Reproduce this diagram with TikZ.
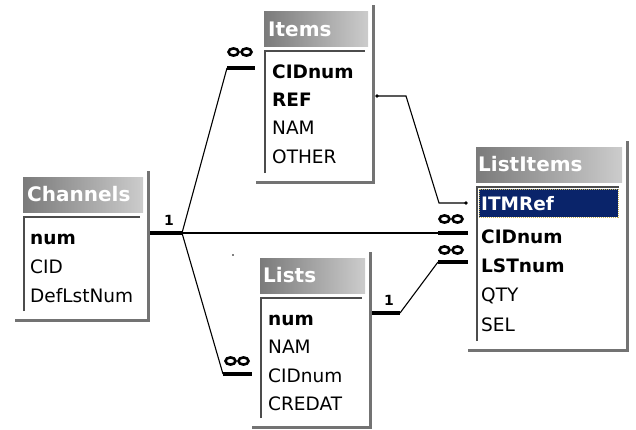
\documentclass[tikz,border=0pt]{standalone}
\usepackage{fontspec}
\setmainfont{DejaVu Sans}
\usetikzlibrary{positioning}

\newcommand\headfont{\bfseries\fontsize{20}{22}\selectfont}
\newcommand\fieldfont{\fontsize{18.5}{20}\selectfont}
\newcommand\keyfont{\bfseries\fontsize{18.5}{20}\selectfont}
\newcommand\cardfont{\bfseries\fontsize{14}{15}\selectfont}
\definecolor{selblue}{RGB}{10,36,106}
\definecolor{seldots}{RGB}{200,180,90}

\begin{document}
\begin{tikzpicture}[x=1pt,y=-1pt,
    frame/.style={line width=3pt, black!55},
    listedge/.style={line width=2pt, black!70},
    title/.style={anchor=west, inner sep=0pt, text=white, font=\headfont, text height=14.6pt, text depth=0pt},
    field/.style={anchor=west, inner sep=0pt, font=\fieldfont, text height=13.5pt, text depth=0pt},
    key/.style={field, font=\keyfont},
    link/.style={line width=1.1pt},
    bar/.style={line width=4.5pt},
    card/.style={inner sep=0pt, font=\cardfont},
    manymark/.pic={\draw[line width=2.6pt] (-6.5,0) ellipse (5 and 3.6) (6.5,0) ellipse (5 and 3.6);}
]
    \useasboundingbox (0,0) rectangle (636,429);

    % Table windows: title bar, frame edge and sunken field list
    \foreach \l/\t/\r/\b in {23/177/148/320, 264/11/373/182, 260/258/370/427, 476/147/627/350} {
        \shade[left color=black!52, right color=black!20] (\l,\t) rectangle (\r-5,\t+35);
        \draw[frame] (\r,\t-6) -- (\r,\b) -- (\l-8,\b);
        \draw[listedge] (\l+1,\b-9) -- (\l+1,\t+40) -- (\r-8,\t+40);
    }

    % Channels
    \node[title] (chn) at (27,194.5) {Channels};
    \node[key] (chn-num) at (30,238) {num};
    \node[field] (chn-cid) at (30,267) {CID};
    \node[field] (chn-def) at (30,296) {DefLstNum};

    % Items
    \node[title] (itm) at (268,29) {Items};
    \node[key] (itm-cid) at (272,72) {CIDnum};
    \node[key] (itm-ref) at (272,100) {REF};
    \node[field] (itm-nam) at (272,128) {NAM};
    \node[field] (itm-oth) at (272,157) {OTHER};

    % Lists
    \node[title] (lst) at (263,275.5) {Lists};
    \node[key] (lst-num) at (268,319) {num};
    \node[field] (lst-nam) at (268,347) {NAM};
    \node[field] (lst-cid) at (268,376) {CIDnum};
    \node[field] (lst-cre) at (268,404) {CREDAT};

    % ListItems, first field selected
    \node[title] (li) at (478,164.5) {ListItems};
    \fill[selblue] (479,189) rectangle (618,217);
    \draw[seldots, densely dotted, line width=1pt] (479,189) rectangle (618,217);
    \node[key, text=white] (li-itm) at (481,204) {ITMRef};
    \node[key] (li-cid) at (481,237) {CIDnum};
    \node[key] (li-lst) at (481,266) {LSTnum};
    \node[field] (li-qty) at (481,295) {QTY};
    \node[field] (li-sel) at (481,325) {SEL};

    % Relationship end points
    \coordinate (chn-out) at (150,233);
    \coordinate (chn-fork) at (182,233);
    \coordinate (li-cid-in) at (438,233);
    \coordinate (li-cid-end) at (468,233);
    \coordinate (itm-cid-in) at (227,68);
    \coordinate (itm-cid-end) at (255,68);
    \coordinate (lst-cid-in) at (223,374);
    \coordinate (lst-cid-end) at (252,374);
    \coordinate (lst-out) at (372,313);
    \coordinate (lst-fork) at (400,313);
    \coordinate (li-lst-in) at (438,262);
    \coordinate (li-lst-end) at (468,262);
    \coordinate (itm-ref-out) at (377,96);
    \coordinate (li-itm-in) at (466,203);

    % Channels -> Items, Lists, ListItems
    \draw[bar] (chn-out) -- (chn-fork);
    \draw[link] (chn-fork) -- (li-cid-in);
    \draw[bar] (li-cid-in) -- (li-cid-end);
    \draw[link] (chn-fork) -- (itm-cid-in);
    \draw[bar] (itm-cid-in) -- (itm-cid-end);
    \draw[link] (chn-fork) -- (lst-cid-in);
    \draw[bar] (lst-cid-in) -- (lst-cid-end);
    \node[card] (one-chn) at (169,220) {1};

    % Lists -> ListItems
    \draw[bar] (lst-out) -- (lst-fork);
    \draw[link] (lst-fork) -- (li-lst-in);
    \draw[bar] (li-lst-in) -- (li-lst-end);
    \node[card] (one-lst) at (389,300) {1};

    % Items -> ListItems (no enforced join)
    \draw[link] (itm-ref-out) -- (406,96) -- (439,203) -- (li-itm-in);
    \fill (itm-ref-out) circle (1.9);
    \fill (li-itm-in) circle (1.9);

    % many-side marks
    \pic at (240,52) {manymark};
    \pic at (451,219) {manymark};
    \pic at (451,250) {manymark};
    \pic at (237,361) {manymark};

    \fill (233,255) circle (0.8);
\end{tikzpicture}
\end{document}
